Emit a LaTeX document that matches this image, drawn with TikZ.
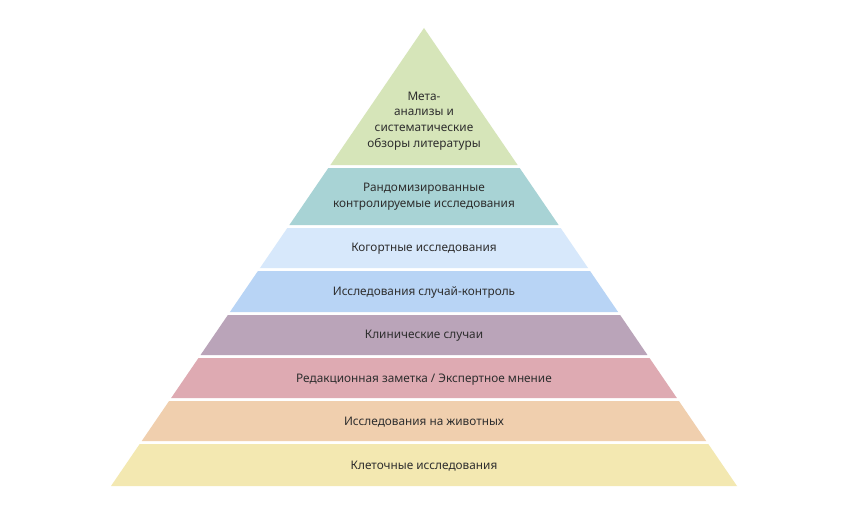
\documentclass[tikz,border=0pt]{standalone}
\usepackage{fontspec}
\setmainfont{Noto Sans}
\definecolor{cA}{HTML}{D6E5B9}
\definecolor{cB}{HTML}{A8D3D5}
\definecolor{cC}{HTML}{D7E8FB}
\definecolor{cD}{HTML}{B8D4F5}
\definecolor{cE}{HTML}{BAA4B9}
\definecolor{cF}{HTML}{DEAAB2}
\definecolor{cG}{HTML}{F0CFAE}
\definecolor{cH}{HTML}{F3E8B1}
\definecolor{txt}{HTML}{2E2E2E}
\tikzset{lbl/.style={text=txt,font=\fontsize{11.8}{15.8}\selectfont,align=center,inner sep=0pt}}
\begin{document}
\begin{tikzpicture}[x=1pt,y=-1pt]
\useasboundingbox[fill=white] (0,0) rectangle (848,516);
\def\cx{424}
\def\s{0.6834}
\foreach \t/\b/\c/\n in {168/225/cB/B,228/268/cC/C,271/312/cD/D,315/355/cE/E,358/398/cF/F,401/441/cG/G,444/486/cH/H}{
  \pgfmathsetmacro{\ht}{\s*(\t-28)}
  \pgfmathsetmacro{\hb}{\s*(\b-28)}
  \fill[\c] (\cx-\ht,\t) -- (\cx+\ht,\t) -- (\cx+\hb,\b) -- (\cx-\hb,\b) -- cycle;
}
\fill[cA] (\cx,28) -- (\cx+93.6,165) -- (\cx-93.6,165) -- cycle;
\node[lbl] (tA) at (\cx,121) {Мета-\\анализы и\\систематические\\обзоры литературы};
\node[lbl] (tB) at (\cx,197) {Рандомизированные\\контролируемые исследования};
\node[lbl] (tC) at (\cx,248.5) {Когортные исследования};
\node[lbl] (tD) at (\cx,292.5) {Исследования случай-контроль};
\node[lbl] (tE) at (\cx,336) {Клинические случаи};
\node[lbl] (tF) at (\cx,379.5) {Редакционная заметка / Экспертное мнение};
\node[lbl] (tG) at (\cx,422) {Исследования на животных};
\node[lbl] (tH) at (\cx,466) {Клеточные исследования};
\end{tikzpicture}
\end{document}
